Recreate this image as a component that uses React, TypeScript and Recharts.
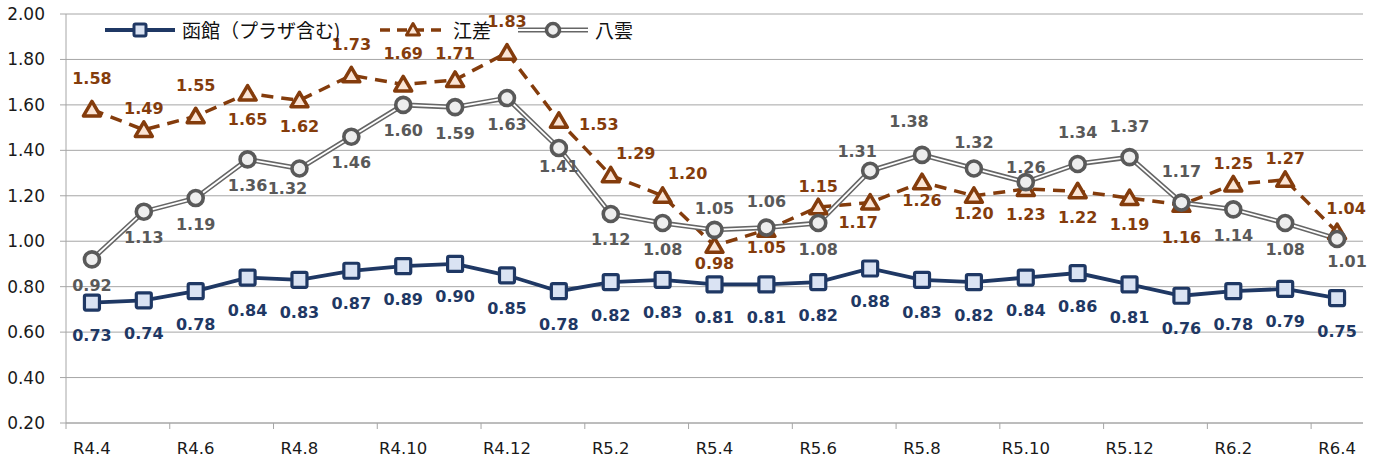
import React from 'react';
import { LineChart, Line, XAxis, YAxis, CartesianGrid, Legend, LabelList } from 'recharts';

// ---------- data ----------
const MONTHS = [
  'R4.4', 'R4.5', 'R4.6', 'R4.7', 'R4.8', 'R4.9', 'R4.10', 'R4.11', 'R4.12',
  'R5.1', 'R5.2', 'R5.3', 'R5.4', 'R5.5', 'R5.6', 'R5.7', 'R5.8', 'R5.9', 'R5.10', 'R5.11', 'R5.12',
  'R6.1', 'R6.2', 'R6.3', 'R6.4',
];
const HAKODATE = [0.73, 0.74, 0.78, 0.84, 0.83, 0.87, 0.89, 0.90, 0.85, 0.78, 0.82, 0.83, 0.81, 0.81, 0.82, 0.88, 0.83, 0.82, 0.84, 0.86, 0.81, 0.76, 0.78, 0.79, 0.75];
const ESASHI = [1.58, 1.49, 1.55, 1.65, 1.62, 1.73, 1.69, 1.71, 1.83, 1.53, 1.29, 1.20, 0.98, 1.05, 1.15, 1.17, 1.26, 1.20, 1.23, 1.22, 1.19, 1.16, 1.25, 1.27, 1.04];
const YAKUMO = [0.92, 1.13, 1.19, 1.36, 1.32, 1.46, 1.60, 1.59, 1.63, 1.41, 1.12, 1.08, 1.05, 1.06, 1.08, 1.31, 1.38, 1.32, 1.26, 1.34, 1.37, 1.17, 1.14, 1.08, 1.01];
const SERIES_NAMES = ['函館（プラザ含む)', '江差', '八雲'];
const Y_TICKS = [0.2, 0.4, 0.6, 0.8, 1.0, 1.2, 1.4, 1.6, 1.8, 2.0];

// ---------- label placement codes (layout, not data) ----------
const HAKODATE_LABEL_POS = MONTHS.map(() => 'H');
const ESASHI_LABEL_POS = ['A', 'a', 'A', 'B', 'B', 'A', 'A', 'M', 'A', 'R', 'AR', 'AR', 'b', 'b', 'a', 'BL', 'b', 'b', 'B', 'B', 'B', 'H', 'a', 'a', 'ar'];
const YAKUMO_LABEL_POS = ['B', 'B', 'B', 'B', 'BL', 'B', 'B', 'B', 'B', 'b', 'B', 'B', 'a', 'M', 'B', 'AL', 'AAL', 'M', 'c', 'A', 'A', 'A', 'B', 'B', 'BR'];
const OFFSETS: Record<string, [number, number]> = {
  A: [0, -31], M: [0, -26], a: [0, -21], c: [0, -15],
  B: [0, 26], b: [0, 18], H: [0, 33],
  R: [40, 4], AR: [25, -22], ar: [9, -24], AL: [-13, -19], AAL: [-13, -33],
  BL: [-12, 20], BR: [10, 23],
};

// ---------- styles ----------
const NAVY = '#1f3864';
const NAVY_FILL = '#dae3f3';
const BROWN = '#843c0c';
const BROWN_FILL = '#fbe5d6';
const GRAY = '#595959';
const GRAY_LINE = '#666666';
const GRAY_FILL = '#eeeeee';
const GRID = '#a6a6a6';
const FONT = '"DejaVu Sans", sans-serif';
const CJK = '"Noto Sans CJK JP", sans-serif';

const W = 1373;
const H = 462;
const PLOT_LEFT = 66;
const PLOT_RIGHT = 1363;
const STEP = (PLOT_RIGHT - PLOT_LEFT) / MONTHS.length;
const X_TICK_SIZE = 6;
const X_TICK_MARGIN = 13;

const data = MONTHS.map((m, i) => ({ month: m, hakodate: HAKODATE[i], esashi: ESASHI[i], yakumo: YAKUMO[i] }));

const SquareDot = (p: any) => {
  const { cx, cy, index } = p;
  if (cx == null || cy == null) return <g key={`sq-${index}`} />;
  return <rect key={`sq-${index}`} x={cx - 7.5} y={cy - 7.5} width={15} height={15} rx={1.5} fill={NAVY_FILL} stroke={NAVY} strokeWidth={3.2} />;
};
const TriDot = (p: any) => {
  const { cx, cy, index } = p;
  if (cx == null || cy == null) return <g key={`tr-${index}`} />;
  return (
    <path key={`tr-${index}`} d={`M${cx},${cy - 8} L${cx + 8.5},${cy + 6.5} L${cx - 8.5},${cy + 6.5} Z`}
      fill={BROWN_FILL} stroke={BROWN} strokeWidth={3.5} strokeLinejoin="round" />
  );
};
const CircleDot = (p: any) => {
  const { cx, cy, index } = p;
  if (cx == null || cy == null) return <g key={`ci-${index}`} />;
  return <circle key={`ci-${index}`} cx={cx} cy={cy} r={7.5} fill={GRAY_FILL} stroke={GRAY} strokeWidth={3.6} />;
};

const makeLabel = (codes: string[], color: string) => (props: any) => {
  const x = props.x ?? props.viewBox?.x;
  const y = props.y ?? props.viewBox?.y;
  const { value, index } = props;
  if (x == null || y == null) return null;
  const [dx, dy] = OFFSETS[codes[index]] ?? [0, -25];
  return (
    <text key={`lb-${color}-${index}`} x={x + dx} y={y + dy} textAnchor="middle" dominantBaseline="central"
      fill={color} fontSize={16} fontWeight="bold" fontFamily={FONT}>
      {Number(value).toFixed(2)}
    </text>
  );
};

const XTick = (props: any) => {
  const { x, y, payload } = props;
  const i = payload?.index ?? props.index;
  if (i % 2 !== 0) return <g />;
  const bx = x - STEP / 2;
  return (
    <g>
      <line x1={bx} x2={bx} y1={y - X_TICK_MARGIN - X_TICK_SIZE} y2={y - X_TICK_MARGIN} stroke={GRID} strokeWidth={1} />
      <text x={x} y={y} dy="0.71em" textAnchor="middle" fill="#1a1a1a" fontSize={16.5} fontFamily={FONT}>
        {payload.value}
      </text>
    </g>
  );
};

const LEGEND_LAYOUT = [
  { kind: 'square', lineX: 105, textX: 182 },
  { kind: 'tri', lineX: 378, textX: 453 },
  { kind: 'circle', lineX: 518, textX: 595 },
];

const LegendIcon = ({ kind }: { kind: string }) => (
  <svg width={70} height={24} style={{ display: 'block' }}>
    {kind === 'square' && (
      <g>
        <line x1={0} x2={70} y1={12} y2={12} stroke={NAVY} strokeWidth={3.8} />
        <rect x={29} y={6} width={12} height={12} rx={1.5} fill={NAVY_FILL} stroke={NAVY} strokeWidth={3} />
      </g>
    )}
    {kind === 'tri' && (
      <g>
        <line x1={2} x2={70} y1={12} y2={12} stroke={BROWN} strokeWidth={3.5} strokeDasharray="10 7" />
        <path d="M35,5.5 L41.5,17 L28.5,17 Z" fill={BROWN_FILL} stroke={BROWN} strokeWidth={3} strokeLinejoin="round" />
      </g>
    )}
    {kind === 'circle' && (
      <g>
        <line x1={0} x2={70} y1={12} y2={12} stroke={GRAY_LINE} strokeWidth={5} />
        <line x1={0} x2={70} y1={12} y2={12} stroke="#fff" strokeWidth={1.8} />
        <circle cx={35} cy={12} r={6.5} fill={GRAY_FILL} stroke={GRAY} strokeWidth={3.5} />
      </g>
    )}
  </svg>
);

const LegendBox = () => (
  <div style={{ position: 'relative', width: 700, height: 24 }}>
    {LEGEND_LAYOUT.map((it, i) => (
      <div key={i} style={{ position: 'absolute', left: it.lineX, top: 0, height: 24, display: 'flex', alignItems: 'center' }}>
        <LegendIcon kind={it.kind} />
        <span style={{ marginLeft: it.textX - it.lineX - 70, fontSize: 19, fontFamily: CJK, color: '#111', lineHeight: '24px', whiteSpace: 'nowrap' }}>
          {SERIES_NAMES[i]}
        </span>
      </div>
    ))}
  </div>
);

export default function App() {
  return (
    <div style={{ position: 'absolute', left: 0, top: 0, width: W, height: H, background: '#fff' }}>
      <LineChart width={W} height={H} data={data} margin={{ top: 14, right: W - PLOT_RIGHT, bottom: 0, left: 0 }}>
        <CartesianGrid vertical={false} stroke={GRID} strokeWidth={1} />
        <XAxis
          dataKey="month"
          interval={0}
          padding={{ left: STEP / 2, right: STEP / 2 }}
          height={39}
          tickLine={false}
          tickSize={X_TICK_SIZE}
          tickMargin={X_TICK_MARGIN}
          axisLine={{ stroke: GRID }}
          tick={<XTick />}
        />
        <YAxis
          width={PLOT_LEFT}
          domain={[0.2, 2.0]}
          ticks={Y_TICKS}
          interval={0}
          tickFormatter={(v: number) => v.toFixed(2)}
          tickSize={6}
          tickMargin={15}
          axisLine={{ stroke: GRID }}
          tickLine={{ stroke: GRID }}
          tick={{ fill: '#1a1a1a', fontSize: 17, fontFamily: FONT }}
        />
        <Legend layout="horizontal" verticalAlign="middle" align="center"
          wrapperStyle={{ left: 0, top: 18, width: 700, height: 24 }}
          content={() => <LegendBox />} />
        <Line type="linear" dataKey="hakodate" name={SERIES_NAMES[0]} stroke={NAVY} strokeWidth={3.8}
          dot={SquareDot} activeDot={false} isAnimationActive={false} />
        <Line type="linear" dataKey="esashi" name={SERIES_NAMES[1]} stroke={BROWN} strokeWidth={3.5} strokeDasharray="12 8"
          dot={TriDot} activeDot={false} isAnimationActive={false} />
        <Line type="linear" dataKey="yakumo" name={SERIES_NAMES[2]} stroke={GRAY_LINE} strokeWidth={5}
          dot={false} activeDot={false} isAnimationActive={false} legendType="none" />
        <Line type="linear" dataKey="yakumo" name={SERIES_NAMES[2] + ' inner'} stroke="#ffffff" strokeWidth={1.8}
          dot={CircleDot} activeDot={false} isAnimationActive={false} legendType="none" />
        <Line type="linear" dataKey="hakodate" stroke="none" dot={false} activeDot={false} isAnimationActive={false} legendType="none">
          <LabelList dataKey="hakodate" content={makeLabel(HAKODATE_LABEL_POS, NAVY)} />
        </Line>
        <Line type="linear" dataKey="esashi" stroke="none" dot={false} activeDot={false} isAnimationActive={false} legendType="none">
          <LabelList dataKey="esashi" content={makeLabel(ESASHI_LABEL_POS, BROWN)} />
        </Line>
        <Line type="linear" dataKey="yakumo" stroke="none" dot={false} activeDot={false} isAnimationActive={false} legendType="none">
          <LabelList dataKey="yakumo" content={makeLabel(YAKUMO_LABEL_POS, GRAY)} />
        </Line>
      </LineChart>
    </div>
  );
}
